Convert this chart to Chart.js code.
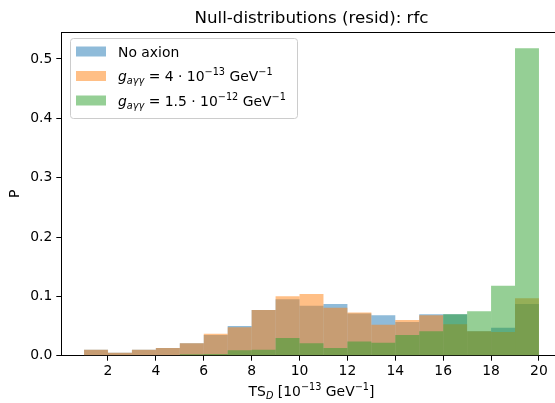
<!DOCTYPE html>
<html>
<head>
<meta charset="utf-8">
<script src="https://cdn.jsdelivr.net/npm/chart.js@4"></script>
<style>
html, body { margin: 0; padding: 0; overflow: hidden; background: #fff; }
#wrap { width: 565px; height: 403px; }
</style>
</head>
<body>
<div id="wrap"><canvas id="chart" width="565" height="403"></canvas></div>
<script>
// histogram bins (width 1, from 1 to 20)
const binCenters = [1.5, 2.5, 3.5, 4.5, 5.5, 6.5, 7.5, 8.5, 9.5, 10.5, 11.5, 12.5, 13.5, 14.5, 15.5, 16.5, 17.5, 18.5, 19.5];
const noAxion = [0.010, 0.005, 0.010, 0.013, 0.021, 0.035, 0.050, 0.077, 0.095, 0.084, 0.087, 0.071, 0.068, 0.057, 0.070, 0.070, 0.041, 0.047, 0.087];
const gWeak   = [0.010, 0.005, 0.010, 0.013, 0.021, 0.037, 0.048, 0.077, 0.100, 0.104, 0.081, 0.073, 0.052, 0.060, 0.068, 0.053, 0.041, 0.040, 0.097];
const gStrong = [0, 0, 0, 0, 0.0025, 0.003, 0.009, 0.010, 0.030, 0.021, 0.013, 0.024, 0.022, 0.035, 0.041, 0.070, 0.075, 0.118, 0.518];
const xTicks = [2, 4, 6, 8, 10, 12, 14, 16, 18, 20];
const yTicks = [0, 0.1, 0.2, 0.3, 0.4, 0.5];

const colBlue = 'rgba(31,119,180,0.5)';
const colOrange = 'rgba(255,127,14,0.5)';
const colGreen = 'rgba(44,160,44,0.5)';

const FAMILY = "'DejaVu Sans', sans-serif";
const FS = 13.9;

// pieces of mathtext-like labels
const N = t => ({ t: t, it: false, sc: 1, dy: 0 });
const I = t => ({ t: t, it: true, sc: 1, dy: 0 });
const Sub = t => ({ t: t, it: true, sc: 0.7, dy: 3 });
const Sup = t => ({ t: t, it: false, sc: 0.7, dy: -6 });

function fontOf(p) {
    return (p.it ? 'italic ' : '') + (FS * p.sc).toFixed(2) + 'px ' + FAMILY;
}

function drawRich(ctx, parts, x, y, align) {
    let w = 0;
    parts.forEach(p => { ctx.font = fontOf(p); w += ctx.measureText(p.t).width; });
    if (align === 'center') x -= w / 2;
    ctx.textAlign = 'left';
    ctx.textBaseline = 'alphabetic';
    parts.forEach(p => {
        ctx.font = fontOf(p);
        ctx.fillText(p.t, x, y + p.dy);
        x += ctx.measureText(p.t).width;
    });
}

const legendRows = [
    { color: colBlue, parts: [N('No axion')] },
    { color: colOrange, parts: [I('g'), Sub('aγγ'), N(' = 4 · 10'), Sup('−13'), N(' GeV'), Sup('−1')] },
    { color: colGreen, parts: [I('g'), Sub('aγγ'), N(' = 1.5 · 10'), Sup('−12'), N(' GeV'), Sup('−1')] }
];

const decor = {
    id: 'decor',
    afterDraw(chart) {
        const ctx = chart.ctx, a = chart.chartArea;
        ctx.save();
        // top spine
        ctx.strokeStyle = '#000';
        ctx.lineWidth = 1;
        ctx.beginPath();
        ctx.moveTo(a.left, Math.round(a.top) + 0.5);
        ctx.lineTo(a.right, Math.round(a.top) + 0.5);
        ctx.stroke();

        ctx.fillStyle = '#000';
        // title
        ctx.font = '16.7px ' + FAMILY;
        ctx.textAlign = 'center';
        ctx.textBaseline = 'alphabetic';
        ctx.fillText('Null-distributions (resid): rfc', (a.left + a.right) / 2, 23);

        // x label
        drawRich(ctx, [N('TS'), Sub('D'), N(' [10'), Sup('−13'), N(' GeV'), Sup('−1'), N(']')], (a.left + a.right) / 2, 396, 'center');

        // y label
        ctx.save();
        ctx.translate(19, (a.top + a.bottom) / 2);
        ctx.rotate(-Math.PI / 2);
        ctx.font = FS + 'px ' + FAMILY;
        ctx.textAlign = 'center';
        ctx.textBaseline = 'alphabetic';
        ctx.fillText('P', 0, 0);
        ctx.restore();

        // legend
        const lx = 70.5, ly = 38.5, lw = 227, lh = 80;
        ctx.beginPath();
        ctx.roundRect(lx, ly, lw, lh, 3);
        ctx.fillStyle = 'rgba(255,255,255,0.8)';
        ctx.fill();
        ctx.strokeStyle = '#cccccc';
        ctx.stroke();
        legendRows.forEach((r, i) => {
            const cy = 51.5 + i * 24.5;
            ctx.fillStyle = r.color;
            ctx.fillRect(76, cy - 5, 30, 10);
            ctx.fillStyle = '#000';
            drawRich(ctx, r.parts, 118, cy + 5, 'left');
        });
        ctx.restore();
    }
};

function series(values) {
    return binCenters.map((c, i) => ({ x: c, y: values[i] }));
}

const tickFont = { family: FAMILY, size: FS };

new Chart(document.getElementById('chart'), {
    type: 'bar',
    data: {
        datasets: [
            { label: 'No axion', data: series(noAxion), backgroundColor: colBlue, order: 2 },
            { label: 'g 4e-13', data: series(gWeak), backgroundColor: colOrange, order: 1 },
            { label: 'g 1.5e-12', data: series(gStrong), backgroundColor: colGreen, order: 0 }
        ]
    },
    options: {
        responsive: false,
        animation: false,
        grouped: false,
        categoryPercentage: 1,
        barPercentage: 1,
        inflateAmount: 0,
        borderWidth: 0,
        layout: { padding: { top: 32, right: 3.3, left: 0, bottom: 0 } },
        plugins: {
            legend: { display: false },
            title: { display: false },
            tooltip: { enabled: false }
        },
        scales: {
            x: {
                type: 'linear',
                offset: false,
                min: 0.05,
                max: 20.95,
                afterBuildTicks: s => { s.ticks = xTicks.map(v => ({ value: v })); },
                afterFit: s => { s.height = 47.3; },
                grid: { offset: false, drawOnChartArea: false, drawTicks: true, tickLength: 5, color: '#000' },
                border: { display: true, color: '#000', width: 1 },
                ticks: { color: '#000', font: tickFont, padding: 2, maxRotation: 0, autoSkip: false }
            },
            y: {
                min: 0,
                max: 0.5455,
                afterBuildTicks: s => { s.ticks = yTicks.map(v => ({ value: v })); },
                afterFit: s => { s.width = 61.3; },
                grid: { drawOnChartArea: false, drawTicks: true, tickLength: 5, color: '#000' },
                border: { display: true, color: '#000', width: 1 },
                ticks: { color: '#000', font: tickFont, padding: 4, callback: v => v.toFixed(1) }
            }
        }
    },
    plugins: [decor]
});
</script>
</body>
</html>
